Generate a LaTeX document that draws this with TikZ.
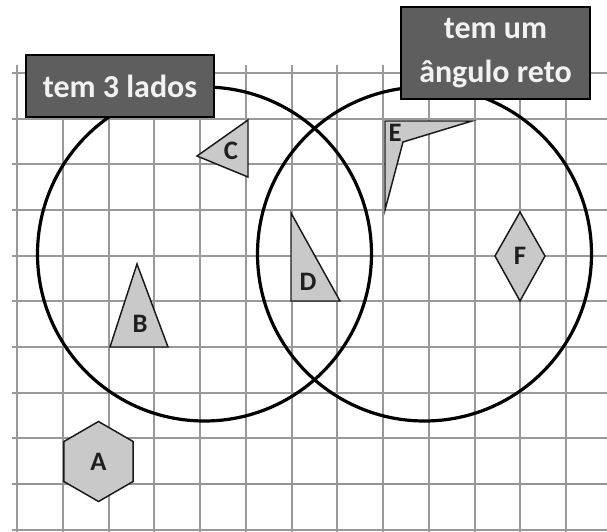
\documentclass[tikz,border=0pt]{standalone}
\usepackage{fontspec}
\setmainfont{Carlito}
\begin{document}
\begin{tikzpicture}[x=0.75pt,y=-0.75pt,
  gridline/.style={draw=black!40,line width=1.5pt},
  axisline/.style={draw=black!42,line width=2.1pt},
  setcircle/.style={draw=black,line width=2.4pt},
  figshape/.style={draw=black!90,fill=black!21,line width=1.1pt,line join=miter},
  figlabel/.style={font=\fontsize{20}{23}\selectfont\bfseries,text=black!88,inner sep=0pt},
  setlabel/.style={draw=black,line width=1.1pt,fill=black!63,text=white!95!black,
    font=\fontsize{24}{33}\selectfont\bfseries,align=center,inner sep=0pt}]
\useasboundingbox (0,0) rectangle (607,532);
% grid
\foreach \k in {0,...,12}{
  \draw[gridline] ({17+45.75*\k},65) -- ({17+45.75*\k},532);
}
\foreach \j in {0,...,10}{
  \draw[gridline] (12,{73+45.67*\j}) -- (607,{73+45.67*\j});
}
\draw[axisline] (12,484) -- (607,484);
% circles
\coordinate (c1) at (204.5,254);
\coordinate (c2) at (424.5,254);
\draw[setcircle] (c1) circle[radius=125.25pt];
\draw[setcircle] (c2) circle[radius=125.25pt];
% shapes
\draw[figshape] (98.5,421.5) -- (133.1,441.5) -- (133.1,481.5) -- (98.5,501.5) -- (63.9,481.5) -- (63.9,441.5) -- cycle;
\node[figlabel] (A) at (98.5,462) {A};
\draw[figshape] (137,264) -- (168,347) -- (110,347) -- cycle;
\node[figlabel] (B) at (140,324) {B};
\draw[figshape] (248,120) -- (248,177) -- (197,156) -- cycle;
\node[figlabel] (C) at (231,151) {C};
\draw[figshape] (291,213) -- (340,301) -- (291,301) -- cycle;
\node[figlabel] (D) at (308,282) {D};
\draw[figshape] (385,121) -- (472,121) -- (403,142) -- (385,210) -- cycle;
\node[figlabel] (E) at (395,133) {E};
\draw[figshape] (520,212) -- (545,256) -- (520,301) -- (495,256) -- cycle;
\node[figlabel] (F) at (520,256) {F};
% set labels
\node[setlabel,minimum width=141pt,minimum height=46.5pt] (L1) at (120,86) {tem 3 lados};
\node[setlabel,minimum width=141.75pt,minimum height=69pt] (L2) at (495.5,53) {tem um\\ângulo reto};
\end{tikzpicture}
\end{document}
